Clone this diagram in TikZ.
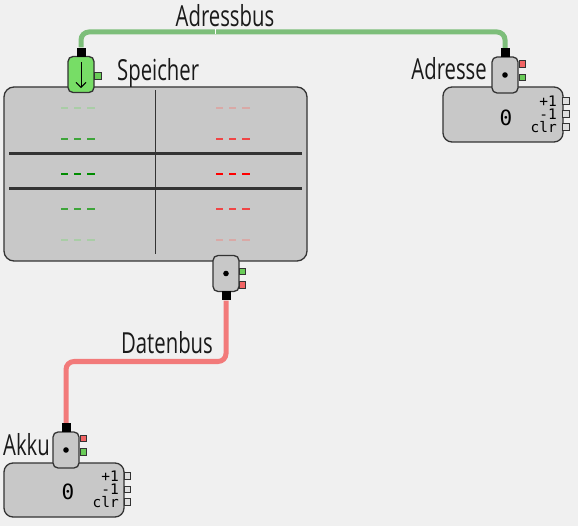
\documentclass[tikz,border=0pt]{standalone}
\usepackage{fontspec}
\setmainfont{Open Sans}[FakeStretch=0.7]
\newfontfamily\regfont{DejaVu Sans Mono}
\usetikzlibrary{arrows.meta,positioning}
\definecolor{cbg}{HTML}{F0F0F0}
\definecolor{cbox}{HTML}{C8C8C8}
\definecolor{cdark}{HTML}{333333}
\definecolor{ctext}{HTML}{1A1A1A}
\definecolor{cabus}{HTML}{7DBE7A}
\definecolor{cdbus}{HTML}{F27A7A}
\definecolor{cport}{HTML}{77DD66}
\definecolor{cledred}{HTML}{F26464}
\definecolor{cledgreen}{HTML}{6ACC58}
\definecolor{cgA}{HTML}{A9CDA6}
\definecolor{cgB}{HTML}{3EA53A}
\definecolor{cgC}{HTML}{008C00}
\definecolor{crA}{HTML}{D9A9A6}
\definecolor{crB}{HTML}{F04545}
\definecolor{crC}{HTML}{FF0000}

\begin{document}
\begin{tikzpicture}[x=1pt, y=-1pt,
    reg/.style={draw=cdark, fill=cbox, line width=1.3pt, rounded corners=9pt, inner sep=0pt},
    port/.style={draw=cdark, fill=cbox, line width=1.3pt, rounded corners=5pt,
                 minimum width=26pt, minimum height=36pt, inner sep=0pt},
    pin/.style={fill=black, minimum size=9pt, inner sep=0pt},
    led/.style={draw=cdark, line width=0.6pt, minimum size=6.5pt, inner sep=0pt},
    ctl/.style={led, fill=cbox!60!white},
    title/.style={font=\fontsize{29}{29}\selectfont, text=ctext, inner sep=0pt},
    num/.style={font=\regfont\fontsize{21}{21}\selectfont, inner sep=0pt},
    ops/.style={font=\regfont\fontsize{14.5}{13}\selectfont, align=right, inner sep=0pt},
    bus/.style={line width=5pt, rounded corners=8pt},
    cellbits/.style={line width=2pt, dash pattern=on 7.3pt off 5.8pt},
]
\fill[cbg] (0,0) rectangle (578,526);
\useasboundingbox (0,0) rectangle (578,526);

% Speicher
\node[reg, rounded corners=10pt, minimum width=303pt, minimum height=174pt] (mem) at (155.5,174) {};
\draw[cdark, line width=1.2pt] ([yshift=-4pt]mem.north) -- ([yshift=8pt]mem.south);
\draw[cdark, line width=3pt] (9,154) -- (302,154);
\draw[cdark, line width=3pt] (9,189) -- (302,189);
\foreach \y/\g/\r in {108/cgA/crA, 139/cgB/crB, 174/cgC/crC, 209/cgB/crB, 240/cgA/crA} {
  \draw[cellbits, \g] (61,\y) -- (95,\y);
  \draw[cellbits, \r] (216,\y) -- (250,\y);
}

% Adressregister and Akku
\node[reg, minimum width=120pt, minimum height=55pt] (areg) at (503,114.5) {};
\node[reg, minimum width=120pt, minimum height=54pt] (kreg) at (64,490) {};
\node[num] (aval) at (506,118) {0};
\node[num] (kval) at (68,492) {0};
\node[ops, anchor=east] (aops) at (557,114.5) {+1\\-1\\clr};
\node[ops, anchor=east] (kops) at (119,489.5) {+1\\-1\\clr};
\foreach \y in {101,114,127} \node[ctl] at (566,\y) {};
\foreach \y in {476,489.5,502} \node[ctl] at (127.5,\y) {};

% Ports
\node[port, fill=cport] (spt) at (81,74.5) {};
\node[port] (apt) at (505,75) {};
\node[port] (dpt) at (226,273.5) {};
\node[port] (kpt) at (66,450) {};
\draw[black, line width=1pt, -{Straight Barb[length=5pt, width=10pt]}]
    ([yshift=-6pt]spt.north) -- ([yshift=5pt]spt.south);
\fill (apt) circle (2.8pt);
\fill (dpt) circle (2.8pt);
\fill (kpt) circle (2.8pt);

\node[pin, above=-1pt of spt] (spin) {};
\node[pin, above=-1pt of apt] (apin) {};
\node[pin, below=-1pt of dpt] (dpin) {};
\node[pin, above=-1pt of kpt] (kpin) {};

\node[led, fill=cledgreen] (sled) at (98,76) {};
\node[led, fill=cledred]   (ared) at (522.5,64) {};
\node[led, fill=cledgreen] (agreen) at (522.5,77.5) {};
\node[led, fill=cledgreen] (dgreen) at (242.5,271.5) {};
\node[led, fill=cledred]   (dred) at (242.5,285) {};
\node[led, fill=cledred]   (kred) at (83.5,438.5) {};
\node[led, fill=cledgreen] (kgreen) at (83.5,452) {};

% Busse
\coordinate (abusmid) at (215,32);
\coordinate (dbusmid) at (150,361.5);
\draw[bus, cabus] (spin.north) |- (abusmid) -| (apin.north);
\node[fill=white, minimum width=1pt, minimum height=5pt, inner sep=0pt] at (abusmid) {};
\draw[bus, cdbus] (dpin.south) |- (dbusmid) -| (kpin.north);

% Beschriftungen
\node[title, anchor=base] (abuslbl) at (225,27) {Adressbus};
\node[title, anchor=base] (dbuslbl) at (167,354) {Datenbus};
\node[title, anchor=base west] (memlbl) at (117,81) {Speicher};
\node[title, anchor=base east] (alabel) at (487,80) {Adresse};
\node[title, anchor=base east] (klabel) at (50,455) {Akku};
\end{tikzpicture}
\end{document}
